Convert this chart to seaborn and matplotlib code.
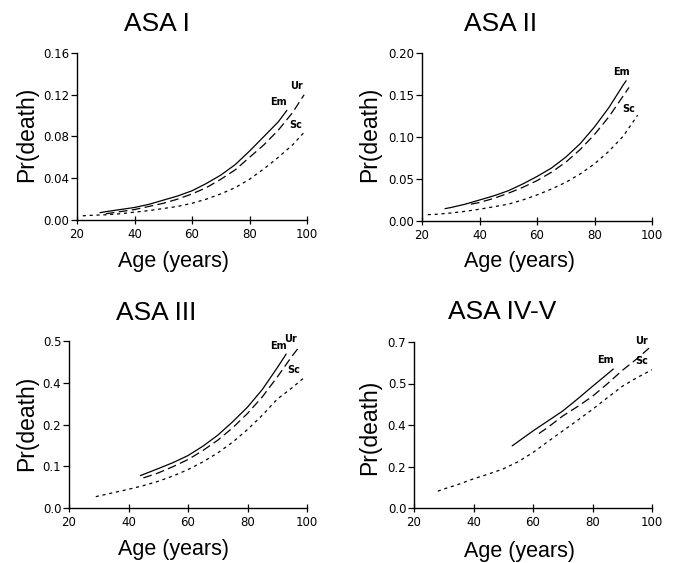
import numpy as np
import pandas as pd
import matplotlib
matplotlib.use('Agg')
import matplotlib.pyplot as plt
import seaborn as sns

# --- data (age in years, Pr(death)) ---
# ASA I
asa1_em_age = [28, 30, 35, 40, 45, 50, 55, 60, 65, 70, 75, 80, 85, 90, 93]
asa1_em = [0.007, 0.008, 0.010, 0.012, 0.015, 0.019, 0.023, 0.028, 0.035, 0.043, 0.053, 0.066, 0.080, 0.094, 0.105]
asa1_ur_age = [30, 35, 40, 45, 50, 55, 60, 65, 70, 75, 80, 85, 90, 95, 99]
asa1_ur = [0.006, 0.008, 0.010, 0.013, 0.016, 0.020, 0.025, 0.031, 0.039, 0.048, 0.060, 0.072, 0.086, 0.103, 0.120]
asa1_sc_age = [22, 25, 30, 35, 40, 45, 50, 55, 60, 65, 70, 75, 80, 85, 90, 95, 99]
asa1_sc = [0.004, 0.0045, 0.005, 0.006, 0.0075, 0.009, 0.011, 0.013, 0.016, 0.020, 0.025, 0.031, 0.039, 0.049, 0.060, 0.072, 0.084]

# ASA II
asa2_em_age = [28, 30, 35, 40, 45, 50, 55, 60, 65, 70, 75, 80, 85, 90, 91]
asa2_em = [0.0147, 0.016, 0.020, 0.025, 0.030, 0.036, 0.044, 0.053, 0.063, 0.076, 0.092, 0.112, 0.135, 0.162, 0.167]
asa2_ur_age = [37, 40, 45, 50, 55, 60, 65, 70, 75, 80, 85, 90, 92]
asa2_ur = [0.020, 0.022, 0.027, 0.033, 0.040, 0.048, 0.058, 0.070, 0.085, 0.103, 0.124, 0.149, 0.159]
asa2_sc_age = [22, 25, 30, 35, 40, 45, 50, 55, 60, 65, 70, 75, 80, 85, 90, 95]
asa2_sc = [0.0076, 0.008, 0.0095, 0.0115, 0.014, 0.017, 0.020, 0.025, 0.031, 0.038, 0.046, 0.056, 0.068, 0.083, 0.101, 0.126]

# ASA III
asa3_em_age = [44, 50, 55, 60, 65, 70, 75, 80, 85, 90, 93]
asa3_em = [0.097, 0.118, 0.136, 0.157, 0.185, 0.218, 0.258, 0.302, 0.355, 0.420, 0.461]
asa3_ur_age = [45, 50, 55, 60, 65, 70, 75, 80, 85, 90, 95, 97]
asa3_ur = [0.090, 0.105, 0.124, 0.145, 0.172, 0.203, 0.240, 0.283, 0.333, 0.392, 0.455, 0.478]
asa3_sc_age = [29, 35, 40, 45, 50, 55, 60, 65, 70, 75, 80, 85, 90, 95, 99]
asa3_sc = [0.034, 0.046, 0.056, 0.067, 0.080, 0.096, 0.115, 0.138, 0.165, 0.197, 0.235, 0.278, 0.326, 0.360, 0.390]

# ASA IV-V
asa4_em_age = [53, 55, 60, 65, 70, 75, 80, 85, 87]
asa4_em = [0.262, 0.280, 0.325, 0.367, 0.409, 0.460, 0.513, 0.565, 0.586]
asa4_ur_age = [62, 65, 70, 75, 80, 85, 90, 95, 99]
asa4_ur = [0.314, 0.340, 0.388, 0.428, 0.471, 0.524, 0.580, 0.630, 0.674]
asa4_sc_age = [28, 30, 35, 40, 45, 50, 55, 60, 65, 70, 75, 80, 85, 90, 95, 100]
asa4_sc = [0.071, 0.080, 0.100, 0.123, 0.143, 0.165, 0.195, 0.234, 0.280, 0.325, 0.370, 0.416, 0.465, 0.513, 0.550, 0.583]

panel_titles = ['ASA I', 'ASA II', 'ASA III', 'ASA IV-V']
x_ticks = [20, 40, 60, 80, 100]
y_max = [0.16, 0.20, 0.5, 0.7]
y_ticklabels = [
    ['0.00', '0.04', '0.08', '0.12', '0.16'],
    ['0.00', '0.05', '0.10', '0.15', '0.20'],
    ['0.0', '0.1', '0.2', '0.4', '0.5'],
    ['0.0', '0.2', '0.4', '0.5', '0.7'],
]
# label text, age, prob
curve_labels = [
    [('Ur', 96.5, 0.128), ('Em', 90, 0.113), ('Sc', 96, 0.091)],
    [('Em', 89.5, 0.177), ('Sc', 92, 0.133)],
    [('Em', 90.5, 0.485), ('Ur', 94.5, 0.507), ('Sc', 95.5, 0.413)],
    [('Em', 84.5, 0.626), ('Ur', 96.5, 0.705), ('Sc', 96.5, 0.619)],
]

series = [
    [(asa1_em_age, asa1_em), (asa1_ur_age, asa1_ur), (asa1_sc_age, asa1_sc)],
    [(asa2_em_age, asa2_em), (asa2_ur_age, asa2_ur), (asa2_sc_age, asa2_sc)],
    [(asa3_em_age, asa3_em), (asa3_ur_age, asa3_ur), (asa3_sc_age, asa3_sc)],
    [(asa4_em_age, asa4_em), (asa4_ur_age, asa4_ur), (asa4_sc_age, asa4_sc)],
]
line_styles = ['-', (0, (7, 3.5)), (0, (2.5, 3))]

sns.set_style('ticks', {'axes.edgecolor': 'black', 'text.color': 'black',
                        'xtick.color': 'black', 'ytick.color': 'black'})
plt.rcParams['font.family'] = ['Liberation Sans', 'DejaVu Sans']

W, H = 674, 563
fig = plt.figure(figsize=(W / 100, H / 100), dpi=100)

# axes boxes in pixels: left, top, right, bottom
boxes = [(77, 53, 307, 220), (422, 53, 652, 221), (69, 341, 307, 508), (414, 342, 652, 508)]
title_pos = [(157, 24), (501, 24), (156, 313), (502, 312)]
xlabel_pos = [(173, 262), (520, 262), (173, 550), (520, 551)]
ylabel_pos = [(27, 134), (370, 134), (27, 423), (370, 427)]

for i in range(4):
    l, t, r, b = boxes[i]
    ax = fig.add_axes([l / W, 1 - b / H, (r - l) / W, (b - t) / H])
    for (ages, vals), ls in zip(series[i], line_styles):
        sns.lineplot(x=ages, y=vals, ax=ax, color='black', linewidth=0.9, linestyle=ls)
    ax.set_xlim(20, 100)
    ax.set_ylim(0, y_max[i])
    ax.set_xticks(x_ticks)
    ax.set_yticks(np.linspace(0, y_max[i], 5))
    ax.set_yticklabels(y_ticklabels[i])
    ax.tick_params(axis='both', labelsize=8.5, width=0.9, length=4, pad=1.5,
                   labelfontfamily='DejaVu Sans', colors='black')
    ax.tick_params(axis='x', direction='inout', length=6, pad=3)
    for sp in ['top', 'right']:
        ax.spines[sp].set_visible(False)
    for sp in ['left', 'bottom']:
        ax.spines[sp].set_linewidth(1.0)
        ax.spines[sp].set_color('black')
    ax.patch.set_visible(False)
    for txt, xx, yy in curve_labels[i]:
        ax.text(xx, yy, txt, fontsize=7, fontweight='bold', ha='center', va='center',
                family='DejaVu Sans', color='black')

    fig.text(title_pos[i][0] / W, 1 - title_pos[i][1] / H, panel_titles[i],
             fontsize=19, ha='center', va='center', color='black')
    fig.text(xlabel_pos[i][0] / W, 1 - xlabel_pos[i][1] / H, 'Age (years)',
             fontsize=15.5, ha='center', va='center', color='black')
    fig.text(ylabel_pos[i][0] / W, 1 - ylabel_pos[i][1] / H, 'Pr(death)',
             fontsize=16.5, ha='center', va='center', rotation=90, color='black')

fig.savefig('out.png', dpi=100)
